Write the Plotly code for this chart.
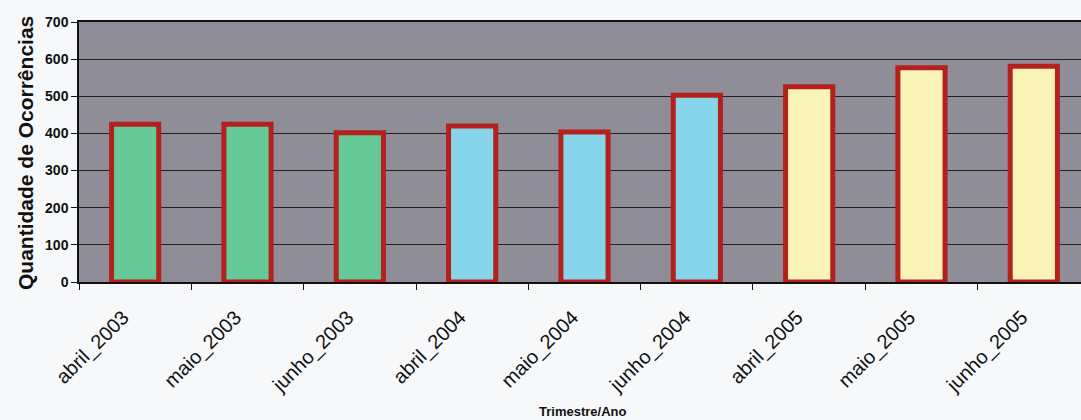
import plotly.graph_objects as go

categories = ["abril_2003", "maio_2003", "junho_2003",
              "abril_2004", "maio_2004", "junho_2004",
              "abril_2005", "maio_2005", "junho_2005"]
values = [425, 425, 402, 420, 404, 503, 526, 577, 581]
years = ["2003", "2003", "2003", "2004", "2004", "2004", "2005", "2005", "2005"]
y_ticks = [0, 100, 200, 300, 400, 500, 600, 700]

year_colors = {"2003": "#66c99a", "2004": "#86d5ea", "2005": "#f8f4b8"}

W, H = 1081, 420
L, T, B = 79, 22, 282  # plot area pixel edges

fig = go.Figure(go.Bar(
    x=categories, y=values,
    marker=dict(color=[year_colors[y] for y in years],
                line=dict(color="#b3201e", width=5)),
    width=0.42,
))

fig.update_layout(
    width=W, height=H,
    margin=dict(l=L, r=0, t=T, b=H - B, autoexpand=False),
    paper_bgcolor="#f6f8fa",
    plot_bgcolor="#8f8d98",
    showlegend=False,
    font=dict(family="Liberation Sans, Arial, sans-serif", color="#111"),
    annotations=[
        dict(text="<b>Trimestre/Ano</b>", x=(582 - L) / (W - L), xref="paper",
             y=0, yref="paper", yshift=-(411 - B),
             showarrow=False, font=dict(size=13, color="#111"),
             xanchor="center", yanchor="middle"),
        dict(text="<b>Quantidade de Ocorrências</b>", textangle=-90,
             x=0, xref="paper", xshift=-(L - 25), y=(B - 153) / (B - T), yref="paper",
             showarrow=False, font=dict(size=21, color="#111"),
             xanchor="center", yanchor="middle"),
    ],
)

fig.update_xaxes(
    range=[-0.5, 8.42],
    automargin=False,
    tickangle=-45,
    tickfont=dict(size=20, color="#111"),
    ticklabelstandoff=14,
    ticklabelshift=-12,
    tickson="boundaries",
    ticks="outside", ticklen=6, tickcolor="#111",
    showline=True, linecolor="#111", linewidth=1.5, mirror=True,
    showgrid=False,
)
fig.update_yaxes(
    range=[0, 700],
    automargin=False,
    tickvals=y_ticks,
    tickfont=dict(size=14, color="#111", weight="bold"),
    ticks="outside", ticklen=6, tickcolor="#111",
    showline=True, linecolor="#111", linewidth=1.5,
    gridcolor="#222", gridwidth=1,
    zeroline=False,
)

fig.write_html("out.html", config={"displayModeBar": False},
               post_script="document.body.style.margin='0';document.body.style.overflow='hidden';")
